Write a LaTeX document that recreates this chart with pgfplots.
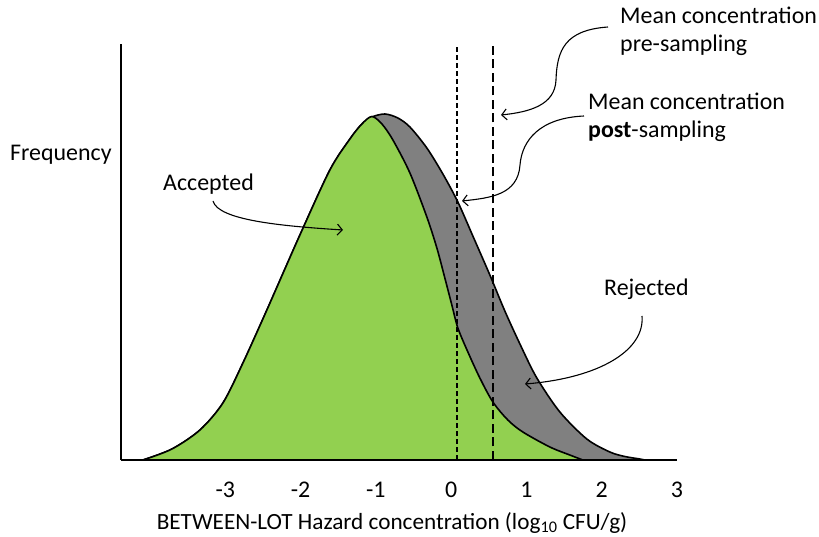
\documentclass[border=0pt]{standalone}
\usepackage{fontspec}
\setmainfont{Carlito}
\usepackage{pgfplots}
\pgfplotsset{compat=1.18}
\usetikzlibrary{arrows.meta}
\definecolor{accgreen}{HTML}{92D050}
\definecolor{rejgrey}{HTML}{808080}

\begin{document}
\fontsize{24}{29}\selectfont
\begin{tikzpicture}[font=\fontsize{24}{29}\selectfont]
\useasboundingbox (0,0) rectangle (819bp,537bp);
\begin{axis}[
  at={(121bp,77bp)}, anchor=south west, scale only axis,
  width=556bp, height=416bp,
  xmin=-4.386, xmax=3, ymin=0, ymax=4.16,
  axis x line=bottom, axis y line=left,
  x axis line style={-, line width=2.4bp},
  y axis line style={-, line width=1.8bp},
  xtick={-3,-2,-1,0,1,2,3}, xticklabels={-3,-2,-1,0,1,2,3},
  ytick=\empty, major tick length=0pt,
  every x tick label/.append style={anchor=base, yshift=-37bp},
  xlabel={BETWEEN-LOT Hazard concentration (log\textsubscript{10} CFU/g)},
  ylabel={Frequency},
  every axis x label/.style={at={(axis description cs:0.4874,0)}, anchor=base, yshift=-69bp, font=\fontsize{23.3}{28}\selectfont},
  every axis y label/.style={at={(axis description cs:-0.1996,0.721)}, anchor=base west, inner sep=0pt},
  axis on top, clip=false,
]
% pre-sampling distribution (all lots)
\addplot[draw=black, line width=1.6bp, fill=rejgrey, smooth] coordinates {
(-4.094,0) (-3.709,0.11) (-3.337,0.30) (-3.032,0.57) (-2.766,0.97)
(-2.448,1.50) (-2.009,2.25) (-1.611,2.90) (-1.345,3.21) (-1.186,3.36)
(-1.053,3.43) (-0.880,3.46) (-0.708,3.42) (-0.548,3.33) (-0.323,3.12) (-0.110,2.86)
(0.089,2.58) (0.288,2.24) (0.514,1.85) (0.713,1.49) (0.926,1.14) (1.138,0.82)
(1.444,0.48) (1.802,0.21) (2.108,0.08) (2.307,0.035) (2.506,0.01) (2.572,0)
} \closedcycle;
% post-sampling distribution (accepted lots)
\addplot[draw=black, line width=1.6bp, fill=accgreen, smooth] coordinates {
(-4.094,0) (-3.709,0.11) (-3.337,0.30) (-3.032,0.57) (-2.766,0.97)
(-2.448,1.50) (-2.009,2.25) (-1.611,2.90) (-1.345,3.21) (-1.186,3.36)
(-1.053,3.435) (-0.920,3.36) (-0.774,3.20) (-0.548,2.87) (-0.323,2.43) (-0.190,2.12)
(-0.084,1.82) (0.009,1.55) (0.089,1.32) (0.222,1.08) (0.381,0.82) (0.554,0.58)
(0.753,0.40) (0.952,0.28) (1.311,0.13) (1.576,0.05) (1.749,0)
} \closedcycle;
% means
\addplot[black, line width=2.2bp, dash pattern=on 5bp off 3bp] coordinates {(0.076,0) (0.076,4.15)};
\addplot[black, line width=2.2bp, dash pattern=on 9bp off 4.5bp] coordinates {(0.554,0) (0.554,4.15)};
\end{axis}
\begin{scope}[shift={(0,537bp)}, x=1bp, y=-1bp]
  \node[anchor=base west, inner sep=0] at (163,191) {Accepted};
  \node[anchor=base west, inner sep=0] at (604,296) {Rejected};
  \node[anchor=base west, inner sep=0] at (620,24) {Mean concentration};
  \node[anchor=base west, inner sep=0] at (620,52) {pre-sampling};
  \node[anchor=base west, inner sep=0] at (588,110) {Mean concentration};
  \node[anchor=base west, inner sep=0] at (588,138) {\textbf{post}-sampling};
  \begin{scope}[line width=1.1bp, -{Straight Barb[length=5bp,width=11bp]}]
    \draw (608,27) .. controls (565,30) and (557,50) .. (556,80) .. controls (555,105) and (530,112) .. (501,115);
    \draw (584,116) .. controls (540,118) and (522,140) .. (520,165) .. controls (518,195) and (490,198) .. (462,201);
    \draw (213,201) .. controls (218,220) and (280,226) .. (343,230);
    \draw (642,316) .. controls (645,350) and (600,378) .. (525,384);
  \end{scope}
\end{scope}
\end{tikzpicture}
\end{document}
